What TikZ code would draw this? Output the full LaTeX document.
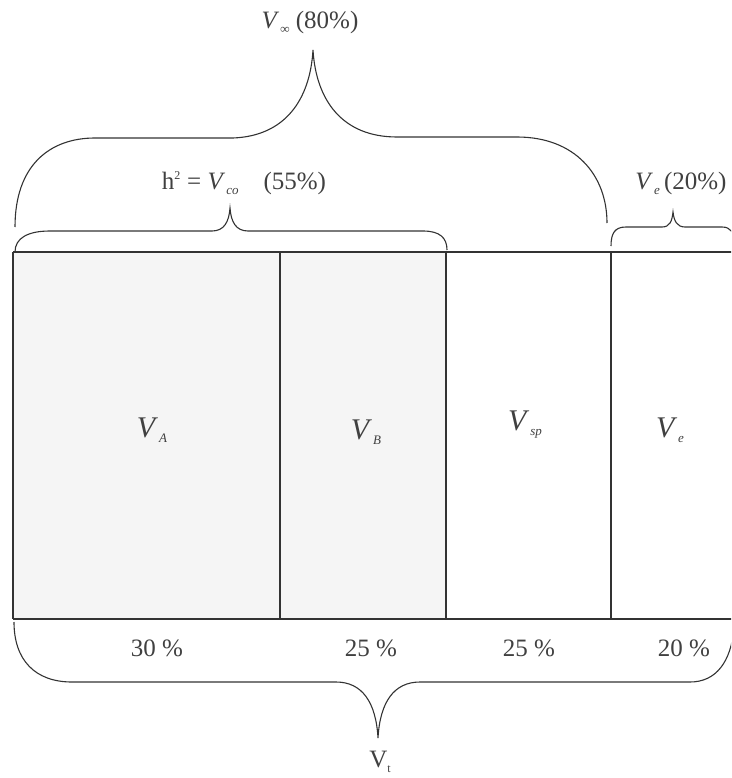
\documentclass[tikz,border=0pt]{standalone}
\usepackage{fontspec}
\setmainfont{Liberation Serif}
\newcommand{\vsub}[2][30]{{\fontsize{#1}{#1}\selectfont\textit{V}}\kern1pt\raisebox{-5pt}{\fontsize{13}{13}\selectfont\textit{#2}}}
\begin{document}
\begin{tikzpicture}[x=1pt,y=-1pt,
  lbl/.style={text=black!75,inner sep=0pt,font=\fontsize{25}{30}\selectfont},
  rule/.style={draw=black!80,line width=1.2pt},
  brace/.style={draw=black!80,line width=1.1pt}]
\useasboundingbox (0,0) rectangle (731,778);
\begin{scope}
\clip (0,0) rectangle (731,778);
% shaded cells
\fill[black!4] (13,252) rectangle (446,619);
% box lines
\coordinate (tl) at (13,252);
\coordinate (tr) at (735,252);
\coordinate (bl) at (13,619);
\coordinate (br) at (735,619);
\draw[rule] (tl) -- (tr);
\draw[rule] (bl) -- (br);
\draw[rule] (tl) -- (bl);
\draw[rule] (280,252) -- (280,619);
\draw[rule] (446,252) -- (446,619);
\draw[rule] (611,252) -- (611,619);
% top big brace
\draw[brace] (15,227) .. controls (15,165) and (50,138) .. (95,138) -- (233,138)
  .. controls (285,136) and (310,100) .. (313,50)
  .. controls (316,100) and (342,137) .. (397,137) -- (517,137)
  .. controls (575,137) and (607,175) .. (607,223);
% h2 brace
\draw[brace] (15,252) .. controls (15,238) and (28,231) .. (50,231) -- (212,231)
  .. controls (224,231) and (229,222) .. (230,208)
  .. controls (231,222) and (236,231) .. (248,231) -- (423,231)
  .. controls (440,231) and (447,238) .. (447,250);
% Ve brace
\draw[brace] (611,246) .. controls (611,233) and (615,227) .. (626,227) -- (662,227)
  .. controls (670,227) and (672,221) .. (673,212)
  .. controls (674,221) and (677,227) .. (685,227) -- (722,227)
  .. controls (731,227) and (734,233) .. (734,242);
% bottom brace
\draw[brace] (14,622) .. controls (14,660) and (35,682) .. (72,682) -- (336,682)
  .. controls (362,682) and (376,702) .. (378,738)
  .. controls (380,702) and (394,682) .. (420,682) -- (690,682)
  .. controls (716,682) and (731,662) .. (734,628);
\end{scope}
% labels
\node[lbl] (vinf) at (310,22) {\vsub[25]{∞}~(80\%)};
\node[lbl] (h2) at (244,183) {h\textsuperscript{\fontsize{12}{12}\selectfont 2} = \vsub[25]{co}\quad(55\%)};
\node[lbl] (vetop) at (681,183) {\vsub[25]{e}\,(20\%)};
\node[lbl] (va) at (152,430) {\vsub{A}};
\node[lbl] (vb) at (366,432) {\vsub{B}};
\node[lbl] (vsp) at (525,425) {\vsub{sp}};
\node[lbl] (ve) at (670,430) {\vsub{e}};
\node[lbl] (p30) at (157,648) {30 \%};
\node[lbl] (p25a) at (371,648) {25 \%};
\node[lbl] (p25b) at (529,648) {25 \%};
\node[lbl] (p20) at (684,648) {20 \%};
\node[lbl] (vt) at (380,762) {V\raisebox{-5pt}{\fontsize{12}{12}\selectfont t}};
\end{tikzpicture}
\end{document}
